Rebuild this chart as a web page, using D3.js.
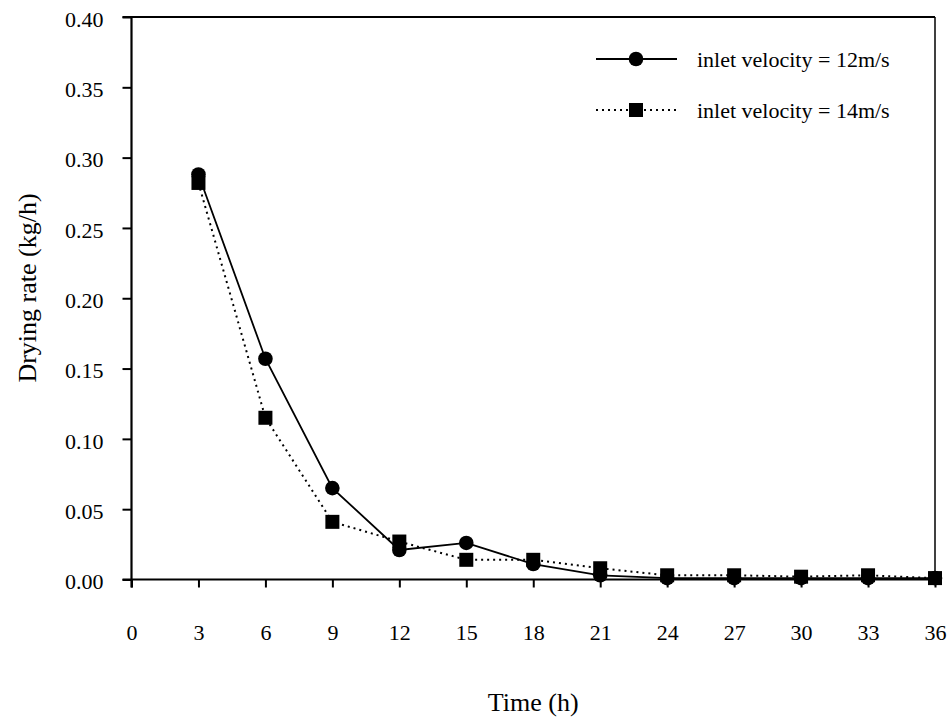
<!DOCTYPE html>
<html>
<head>
<meta charset="utf-8">
<script src="https://cdn.jsdelivr.net/npm/d3@7"></script>
<style>
  body { margin: 0; background: #fff; }
  text { font-family: "Liberation Serif", "Times New Roman", serif; fill: #000; }
</style>
</head>
<body>
<div id="chart"></div>
<script>
// data
var hours = [3, 6, 9, 12, 15, 18, 21, 24, 27, 30, 33, 36];
var rate_12 = [0.288, 0.157, 0.065, 0.021, 0.026, 0.011, 0.003, 0.001, 0.001, 0.001, 0.001, 0.001];
var rate_14 = [0.282, 0.115, 0.041, 0.027, 0.014, 0.014, 0.008, 0.003, 0.003, 0.002, 0.003, 0.001];
var x_ticks = [0, 3, 6, 9, 12, 15, 18, 21, 24, 27, 30, 33, 36];
var y_ticks = [0, 0.05, 0.10, 0.15, 0.20, 0.25, 0.30, 0.35, 0.40];
var legend_labels = ["inlet velocity = 12m/s", "inlet velocity = 14m/s"];

var width = 950, height = 717;
var plot = { left: 131.5, right: 935, top: 17, bottom: 579.5 };

var svg = d3.select("#chart").append("svg")
    .attr("width", width)
    .attr("height", height);

var x_scale = d3.scaleLinear().domain([0, 36]).range([plot.left, plot.right]);
var y_scale = d3.scaleLinear().domain([0, 0.40]).range([plot.bottom, plot.top]);

// frame (top + right)
svg.append("line")
    .attr("x1", plot.left - 9).attr("x2", plot.right)
    .attr("y1", plot.top).attr("y2", plot.top)
    .attr("stroke", "#000").attr("stroke-width", 2);
svg.append("line")
    .attr("x1", plot.right).attr("x2", plot.right)
    .attr("y1", plot.top).attr("y2", plot.bottom)
    .attr("stroke", "#000").attr("stroke-width", 1.5);

// axes
var x_axis = d3.axisBottom(x_scale).tickValues(x_ticks).tickSize(8)
    .tickFormat(d3.format("d"));
var y_axis = d3.axisLeft(y_scale).tickValues(y_ticks).tickSize(9).tickPadding(19)
    .tickFormat(d3.format(".2f"));

var gx = svg.append("g").attr("transform", "translate(0," + plot.bottom + ")").call(x_axis);
var gy = svg.append("g").attr("transform", "translate(" + plot.left + ",0)").call(y_axis);

[gx, gy].forEach(function (g) {
    g.select(".domain").attr("stroke-width", 2.2);
    g.selectAll(".tick line").attr("stroke-width", 2);
    g.selectAll("text").attr("font-size", 22).style("font-family", "Liberation Serif, serif");
});
gx.selectAll(".tick text").attr("y", 60).attr("dy", 0);
gy.selectAll(".tick text").attr("dy", "0.42em");
gx.select(".domain").attr("d", "M" + (plot.left - 9) + ",0H" + plot.right);
gy.select(".domain").attr("d", "M0," + plot.top + "V" + (plot.bottom + 8));

// axis titles
svg.append("text")
    .attr("x", (plot.left + plot.right) / 2)
    .attr("y", 711)
    .attr("text-anchor", "middle")
    .attr("font-size", 26)
    .text("Time (h)");
svg.append("text")
    .attr("transform", "translate(36," + 288 + ") rotate(-90)")
    .attr("text-anchor", "middle")
    .attr("font-size", 26)
    .text("Drying rate (kg/h)");

var line = d3.line()
    .x(function (d) { return x_scale(d[0]); })
    .y(function (d) { return y_scale(d[1]); });

var pts_12 = hours.map(function (h, i) { return [h, rate_12[i]]; });
var pts_14 = hours.map(function (h, i) { return [h, rate_14[i]]; });

// 14 m/s dotted line
svg.append("path").datum(pts_14)
    .attr("d", line)
    .attr("fill", "none")
    .attr("stroke", "#000")
    .attr("stroke-width", 2)
    .attr("stroke-dasharray", "2,4");

// 12 m/s solid line
svg.append("path").datum(pts_12)
    .attr("d", line)
    .attr("fill", "none")
    .attr("stroke", "#000")
    .attr("stroke-width", 1.8);

svg.selectAll(".sq").data(pts_14)
    .enter().append("rect")
    .attr("class", "sq")
    .attr("x", function (d) { return x_scale(d[0]) - 7; })
    .attr("y", function (d) { return y_scale(d[1]) - 7; })
    .attr("width", 14).attr("height", 14)
    .attr("fill", "#000");

svg.selectAll(".dot").data(pts_12)
    .enter().append("circle")
    .attr("class", "dot")
    .attr("cx", function (d) { return x_scale(d[0]); })
    .attr("cy", function (d) { return y_scale(d[1]); })
    .attr("r", 7.3)
    .attr("fill", "#000");

// legend
var legend_y = [59, 110];
svg.append("line")
    .attr("x1", 596).attr("x2", 677)
    .attr("y1", legend_y[0]).attr("y2", legend_y[0])
    .attr("stroke", "#000").attr("stroke-width", 1.8);
svg.append("circle")
    .attr("cx", 636).attr("cy", legend_y[0]).attr("r", 7.3).attr("fill", "#000");
svg.append("line")
    .attr("x1", 596).attr("x2", 677)
    .attr("y1", legend_y[1]).attr("y2", legend_y[1])
    .attr("stroke", "#000").attr("stroke-width", 2)
    .attr("stroke-dasharray", "2,4");
svg.append("rect")
    .attr("x", 629).attr("y", legend_y[1] - 7).attr("width", 14).attr("height", 14)
    .attr("fill", "#000");
svg.selectAll(".leg-text").data(legend_labels)
    .enter().append("text")
    .attr("class", "leg-text")
    .attr("x", 697)
    .attr("y", function (d, i) { return legend_y[i] + 8; })
    .attr("font-size", 22)
    .text(function (d) { return d; });
</script>
</body>
</html>
